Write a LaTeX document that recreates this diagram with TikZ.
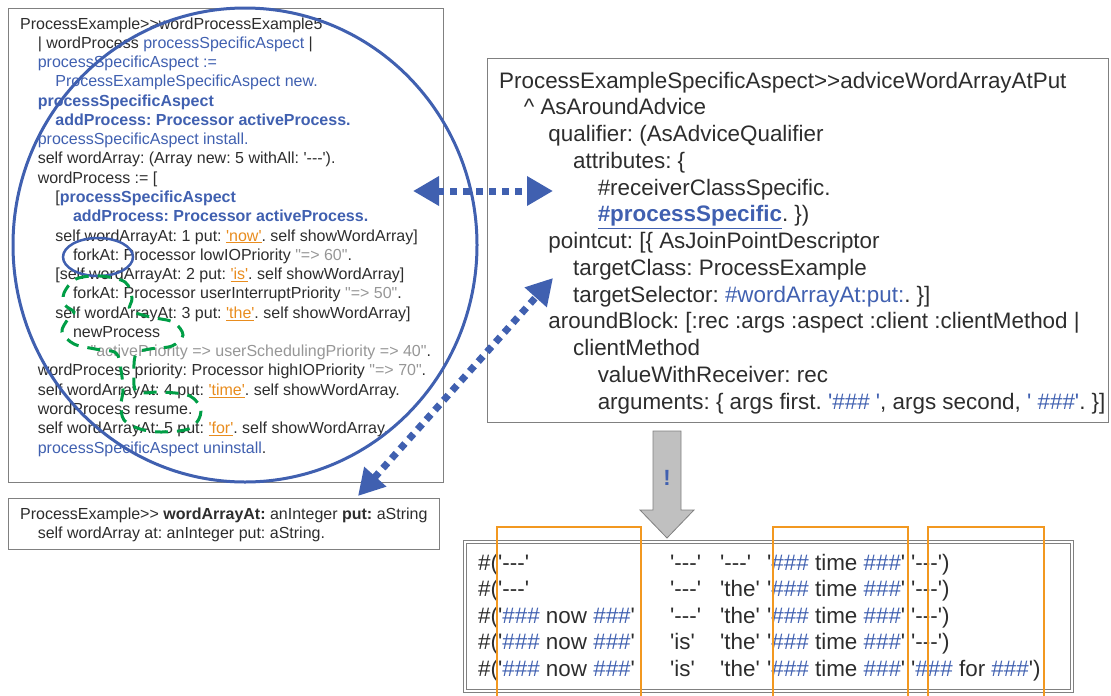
\documentclass[tikz,border=0pt]{standalone}
\usepackage{fontspec}
\newfontfamily\codefont{Liberation Sans}
\usetikzlibrary{positioning,arrows.meta,calc}
\definecolor{codeblue}{RGB}{64,96,176}
\definecolor{codeink}{RGB}{45,45,45}
\definecolor{commentgray}{RGB}{150,150,150}
\definecolor{strorange}{RGB}{232,140,30}
\definecolor{colorange}{RGB}{242,152,32}
\definecolor{framegray}{RGB}{128,128,128}
\definecolor{markgreen}{RGB}{0,158,70}
\definecolor{blockgray}{RGB}{192,192,192}
\newcommand{\kw}[1]{\textcolor{codeblue}{#1}}
\newcommand{\kwb}[1]{\textcolor{codeblue}{\bfseries #1}}
\newcommand{\cmt}[1]{\textcolor{commentgray}{#1}}
\newcommand{\strlit}[1]{\textcolor{strorange}{\underline{#1}}}
\newcommand{\ind}[1]{\hspace*{#1\dimexpr1.1em\relax}\ignorespaces}
\newcommand{\hh}{\textcolor{codeblue}{\#\#\#}}
\frenchspacing

\begin{document}
\begin{tikzpicture}[
  x=1pt,y=-1pt,
  framebox/.style={draw=framegray,line width=1.2pt,inner sep=0pt,anchor=north west},
  code/.style={font=\codefont\fontsize{16}{19.27}\selectfont,text=codeink,align=left,inner sep=0pt,anchor=north west},
  bigcode/.style={code,font=\codefont\fontsize{22.4}{26.75}\selectfont},
  cell/.style={font=\codefont\fontsize{22.4}{26.75}\selectfont,text=codeink,inner sep=0pt,anchor=base west},
  pointer/.style={{Triangle[length=26pt,width=28pt]}-{Triangle[length=26pt,width=28pt]},draw=codeblue,line width=7pt,dash pattern=on 7pt off 6pt},
  hilite/.style={draw=codeblue,line width=3pt},
  forkmark/.style={draw=markgreen,line width=3pt,dash pattern=on 13pt off 9pt},
  colmark/.style={draw=colorange,line width=2pt}
]
\useasboundingbox (0,0) rectangle (1111,696);
% example method
\node[framebox,minimum width=435pt,minimum height=474pt] (exbox) at (8,8) {};
\node[code] (extext) at (20,17.3) {ProcessExample>>wordProcessExample5\\
\ind{1} | wordProcess \kw{processSpecificAspect} |\\
\ind{1} \kw{processSpecificAspect :=}\\
\ind{2} \kw{ProcessExampleSpecificAspect new.}\\
\ind{1} \kwb{processSpecificAspect}\\
\ind{2} \kwb{addProcess: Processor activeProcess.}\\
\ind{1} \kw{processSpecificAspect install.}\\
\ind{1} self wordArray: (Array new: 5 withAll: '---').\\
\ind{1} wordProcess := [\\
\ind{2} [\kwb{processSpecificAspect}\\
\ind{3} \kwb{addProcess: Processor activeProcess.}\\
\ind{2} self wordArrayAt: 1 put: \strlit{'now'}. self showWordArray]\\
\ind{3} forkAt: Processor lowIOPriority \cmt{"=> 60"}.\\
\ind{2} [self wordArrayAt: 2 put: \strlit{'is'}. self showWordArray]\\
\ind{3} forkAt: Processor userInterruptPriority \cmt{"=> 50"}.\\
\ind{2} self wordArrayAt: 3 put: \strlit{'the'}. self showWordArray]\\
\ind{3} newProcess\\
\ind{4} \cmt{"activePriority => userSchedulingPriority => 40"}.\\
\ind{1} wordProcess priority: Processor highIOPriority \cmt{"=> 70"}.\\
\ind{1} self wordArrayAt: 4 put: \strlit{'time'}. self showWordArray.\\
\ind{1} wordProcess resume.\\
\ind{1} self wordArrayAt: 5 put: \strlit{'for'}. self showWordArray.\\
\ind{1} \kw{processSpecificAspect uninstall}.};
% process scope and forked blocks
\draw[hilite] (245,245) ellipse [x radius=232pt, y radius=237pt];
\draw[hilite,line width=2.5pt] (98,257) ellipse [x radius=35pt, y radius=19pt];
\draw[forkmark] plot[smooth cycle,tension=0.55] coordinates {
  (64,293) (76,279) (100,276) (125,282) (132,298) (130,310) (150,317) (173,322)
  (183,335) (172,346) (150,349) (136,354) (134,375) (137,392) (162,392) (190,396)
  (201,411) (191,428) (162,432) (140,429) (124,420) (121,405) (123,390) (121,370)
  (116,353) (95,349) (74,344) (62,332) (68,319) (74,312) (65,305)};
% advice
\node[framebox,minimum width=621pt,minimum height=364pt] (advbox) at (487,58) {};
\node[bigcode] (advtext) at (499,71.6) {ProcessExampleSpecificAspect>>adviceWordArrayAtPut\\
\ind{1} \textasciicircum{} AsAroundAdvice\\
\ind{2} qualifier: (AsAdviceQualifier\\
\ind{3} attributes: \{\\
\ind{4} \#receiverClassSpecific.\\
\ind{4} \textcolor{codeblue}{\bfseries\underline{\#processSpecific}}. \})\\
\ind{2} pointcut: [\{ AsJoinPointDescriptor\\
\ind{3} targetClass: ProcessExample\\
\ind{3} targetSelector: \kw{\#wordArrayAt:put:}. \}]\\
\ind{2} aroundBlock: [:rec :args :aspect :client :clientMethod |\\
\ind{3} clientMethod\\
\ind{4} valueWithReceiver: rec\\
\ind{4} arguments: \{ args first. \kw{'\#\#\# '}, args second, \kw{' \#\#\#'}. \}]};
% accessor method
\node[framebox,minimum width=431pt,minimum height=51pt] (accbox) at (8,498) {};
\node[code] (acctext) at (20,507.3) {ProcessExample>> \textbf{wordArrayAt:} anInteger \textbf{put:} aString\\
\ind{1} self wordArray at: anInteger put: aString.};
% links between code and advice
\coordinate (tipL) at (413,191);
\coordinate (tipR) at (553,191);
\draw[pointer] (tipL) -- (tipR);
\coordinate (tipAcc) at (358,496);
\coordinate (tipSel) at (553,278);
\draw[pointer] (tipAcc) -- (tipSel);
% printed results
\node[framebox,double=white,double distance=2pt,minimum width=607pt,minimum height=149pt] (resbox) at (464.6,541.6) {};
\foreach \ca/\cb/\cc/\ce [count=\r from 0] in {
  \#('---'/'---'/'---'/'---'),
  \#('---'/'---'/'the'/'---'),
  \#('\hh{} now \hh{}'/'---'/'the'/'---'),
  \#('\hh{} now \hh{}'/'is'/'the'/'---'),
  \#('\hh{} now \hh{}'/'is'/'the'/'\hh{} for \hh{}')}
{
  \node[cell] (ca\r) at (478,570+26.6*\r) {\ca};
  \node[cell] (cb\r) at (670,570+26.6*\r) {\cb};
  \node[cell] (cc\r) at (720,570+26.6*\r) {\cc};
  \node[cell] (cd\r) at (767,570+26.6*\r) {'\hh{} time \hh{}'};
  \node[cell] (ce\r) at (911,570+26.6*\r) {\ce};
}
% evaluation arrow
\fill[blockgray,draw=framegray,line width=0.8pt] (653,431) -- (681,431) -- (681,510)
  -- (694,510) -- (667,538) -- (640,510) -- (653,510) -- cycle;
\node[font=\codefont\bfseries\fontsize{22}{26}\selectfont,text=codeblue] (bang) at (667,478) {!};
% column highlights
\draw[colmark] (497,696) |- (641,527) -- (641,696);
\draw[colmark] (773,696) |- (908,527) -- (908,696);
\draw[colmark] (928,696) |- (1044,527) -- (1044,696);
\end{tikzpicture}
\end{document}
